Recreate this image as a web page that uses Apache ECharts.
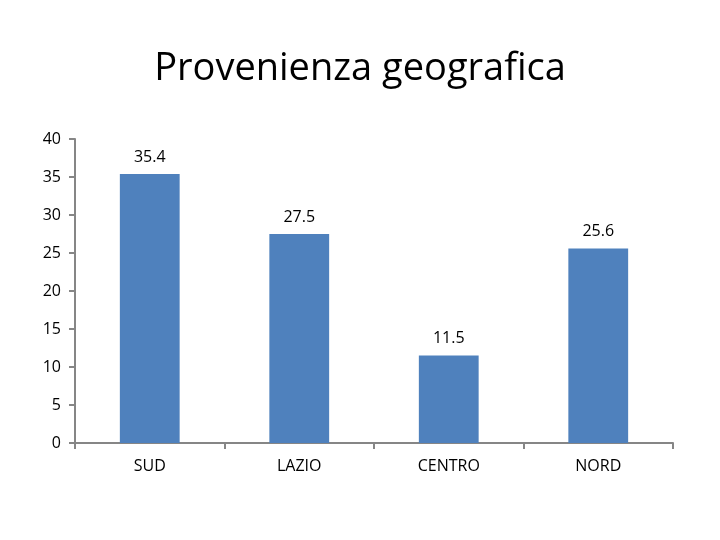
<!DOCTYPE html>
<html>
<head>
<meta charset="utf-8">
<script src="https://cdn.jsdelivr.net/npm/echarts@6/dist/echarts.min.js"></script>
<style>
  html, body { margin: 0; padding: 0; background: #fff; }
  #main { width: 720px; height: 540px; }
</style>
</head>
<body>
<div id="main"></div>
<script>
var categories = ['SUD', 'LAZIO', 'CENTRO', 'NORD'];
var values = [35.4, 27.5, 11.5, 25.6];
var titleText = 'Provenienza geografica';

var font = '"Open Sans", Lato, sans-serif';
var axisGray = '#868686';

var chart = echarts.init(document.getElementById('main'));
chart.setOption({
  backgroundColor: '#fff',
  animation: false,
  title: {
    text: titleText,
    left: 'center',
    top: 45,
    textStyle: { fontFamily: font, fontSize: 38, fontWeight: 'normal', color: '#000' }
  },
  grid: { left: 75, right: 47, top: 139, bottom: 97 },
  xAxis: {
    type: 'category',
    data: categories,
    axisLine: { lineStyle: { color: axisGray, width: 2 } },
    axisTick: { show: true, alignWithLabel: false, length: 6, lineStyle: { color: axisGray, width: 2 } },
    axisLabel: { fontFamily: font, fontSize: 16, color: '#000', margin: 15 }
  },
  yAxis: {
    type: 'value',
    min: 0,
    max: 40,
    interval: 5,
    splitLine: { show: false },
    axisLine: { show: true, lineStyle: { color: axisGray, width: 2 } },
    axisTick: { show: true, length: 6, lineStyle: { color: axisGray, width: 2 } },
    axisLabel: { fontFamily: font, fontSize: 16, color: '#000', margin: 14 }
  },
  series: [{
    type: 'bar',
    data: values,
    barWidth: '40%',
    itemStyle: { color: '#4F81BD' },
    label: {
      show: true,
      position: 'top',
      distance: 9,
      fontFamily: font,
      fontSize: 16,
      color: '#000'
    }
  }]
});
</script>
</body>
</html>
